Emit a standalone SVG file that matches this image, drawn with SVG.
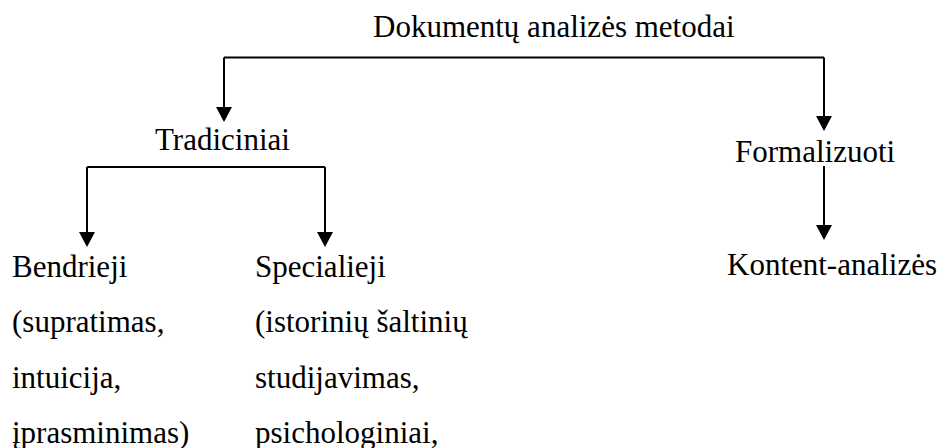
<svg xmlns="http://www.w3.org/2000/svg" width="940" height="448" viewBox="0 0 940 448">
  <defs>
    <marker id="arrow" markerWidth="16" markerHeight="15" refX="8" refY="15" orient="auto-start-reverse" markerUnits="userSpaceOnUse" viewBox="0 0 16 15">
      <path d="M0,0 L16,0 L8,15 Z" fill="#000"/>
    </marker>
  </defs>
  <style>
    text { font-family: "Liberation Serif", "Times New Roman", serif; font-size: 31px; fill: #000; }
    .link { fill: none; stroke: #000; stroke-width: 2; }
  </style>
  <rect width="940" height="448" fill="#fff"/>

  <g id="connectors">
    <path class="link" d="M224,57.5 L824,57.5" />
    <path class="link" d="M224,57.5 L224,108" />
    <path class="link" d="M824,57.5 L824,117" />
    <path class="link" d="M87,167 L325,167" />
    <path class="link" d="M87,167 L87,233" />
    <path class="link" d="M325,167 L325,233" />
    <path class="link" d="M824,166 L824,226" />
    <path d="M216,107 L232,107 L224,122 Z" fill="#000"/>
    <path d="M816,116 L832,116 L824,131 Z" fill="#000"/>
    <path d="M79,232 L95,232 L87,247 Z" fill="#000"/>
    <path d="M317,232 L333,232 L325,247 Z" fill="#000"/>
    <path d="M816,225 L832,225 L824,240 Z" fill="#000"/>
  </g>

  <g id="root">
    <text x="373" y="37">Dokumentų analizės metodai</text>
  </g>
  <g id="tradiciniai">
    <text x="155" y="150">Tradiciniai</text>
  </g>
  <g id="formalizuoti">
    <text x="735" y="162">Formalizuoti</text>
  </g>
  <g id="bendrieji">
    <text x="12" y="277">Bendrieji</text>
    <text x="12" y="332">(supratimas,</text>
    <text x="12" y="388">intuicija,</text>
    <text x="12" y="443">įprasminimas)</text>
  </g>
  <g id="specialieji">
    <text x="255" y="277">Specialieji</text>
    <text x="255" y="332">(istorinių šaltinių</text>
    <text x="255" y="388">studijavimas,</text>
    <text x="255" y="443">psichologiniai,</text>
  </g>
  <g id="kontent-analizes">
    <text x="727" y="275">Kontent-analizės</text>
  </g>
</svg>
